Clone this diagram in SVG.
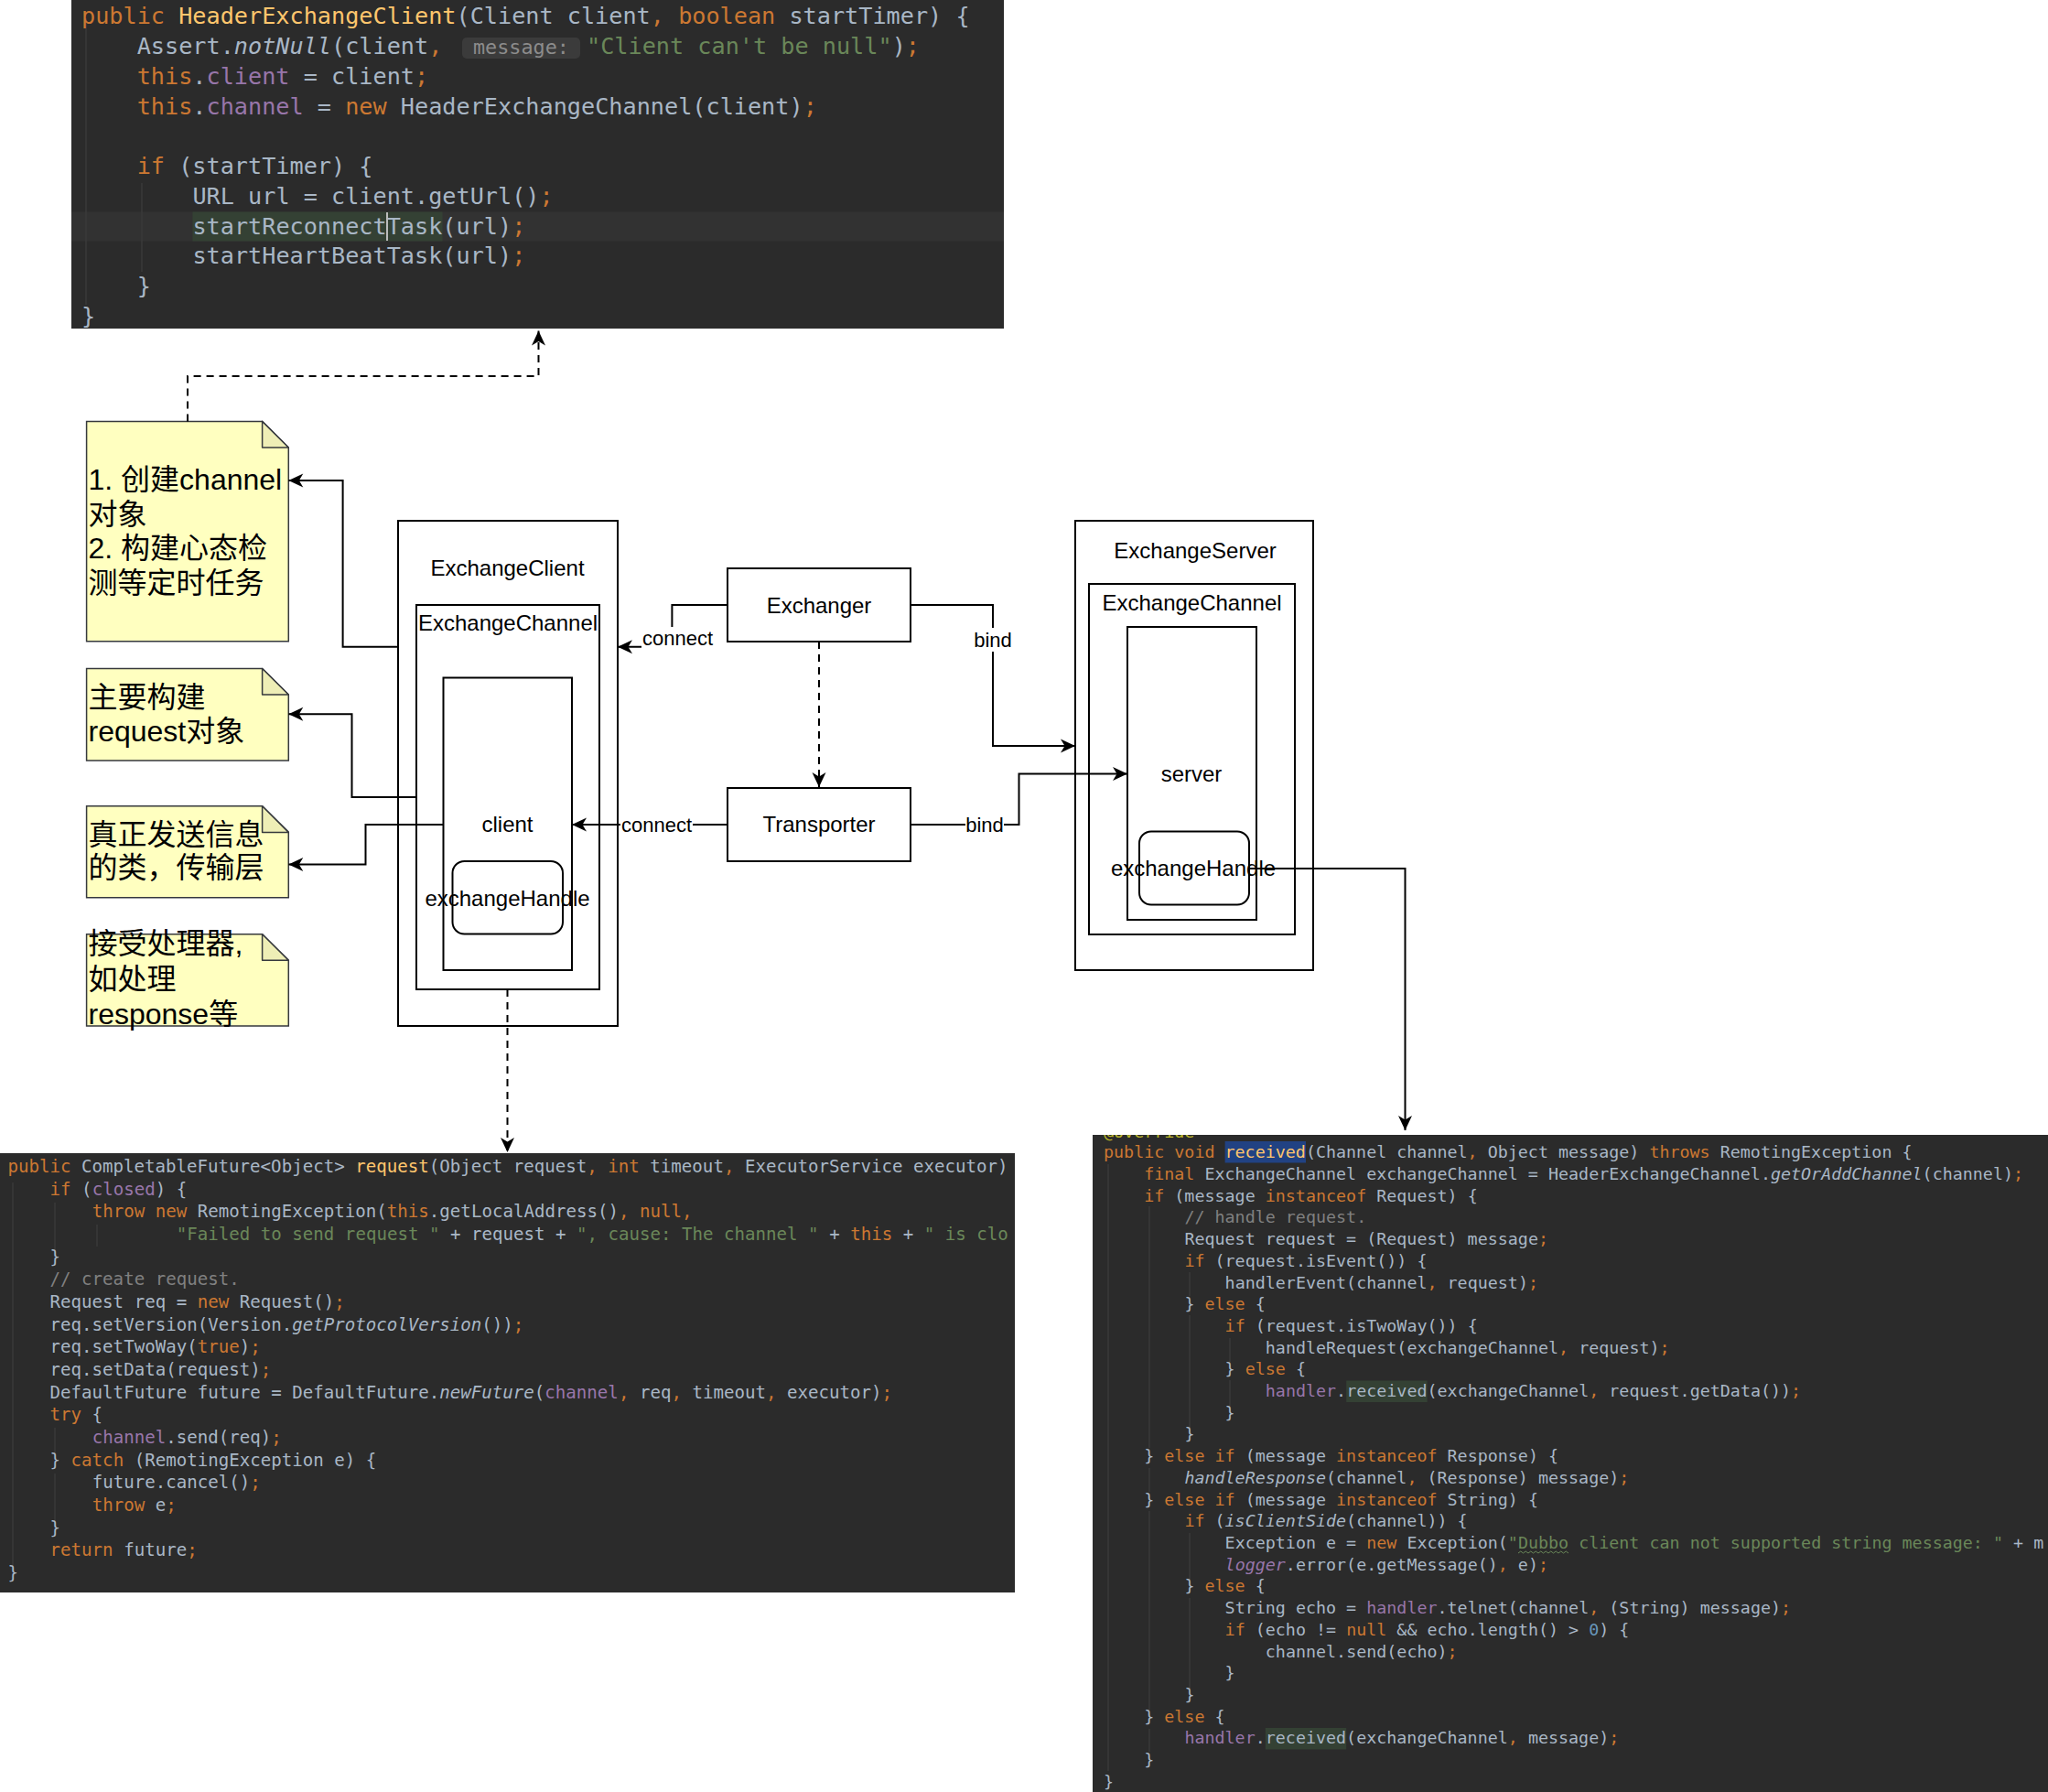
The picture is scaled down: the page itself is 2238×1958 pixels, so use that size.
<svg xmlns="http://www.w3.org/2000/svg" width="2238" height="1958" viewBox="0 0 2238 1958">
<style>
.box{fill:#fff;stroke:#000;stroke-width:2}
.rbox{fill:#fff;stroke:#000;stroke-width:2}
.lbl{font-family:"Liberation Sans",Arial,sans-serif;font-size:24px;fill:#000;text-anchor:middle}
.elbl{font-family:"Liberation Sans",Arial,sans-serif;font-size:22px;fill:#000;text-anchor:middle}
.ebg{fill:#fff;stroke:none}
.note{fill:#FFFFC0;stroke:#36393d;stroke-width:1.5}
.fold{fill:#EEEEB6;stroke:#36393d;stroke-width:1.5;stroke-linejoin:round}
.ntxt{font-family:"Liberation Sans","Noto Sans CJK SC",sans-serif;font-size:32px;fill:#000}
.edge{fill:none;stroke:#000;stroke-width:2}
.dash{stroke-dasharray:8 6}
.bg{fill:#2B2B2B}
.code{font-family:"DejaVu Sans Mono","Liberation Mono",monospace;fill:#A9B7C6;white-space:pre}
.ct{font-size:25.2px}
.cl{font-size:19.13px}
.cr{font-size:18.35px}
.hint{font-family:"DejaVu Sans Mono","Liberation Mono",monospace;font-size:21.8px;fill:#8C8C8C}
.k{fill:#CC7832}
.f{fill:#9876AA}
.s{fill:#6A8759}
.m{fill:#FFC66D}
.c{fill:#808080}
.n{fill:#6897BB}
.a{fill:#BBB529}
.i{font-style:italic}
.guide{stroke:#3A3A3A;stroke-width:1.5}
</style>
<defs>
<marker id="arr" markerUnits="userSpaceOnUse" markerWidth="20" markerHeight="20" viewBox="-18 -10 20 20" refX="0" refY="0" orient="auto">
<path d="M0,0 L-16,-7.5 L-11.5,0 L-16,7.5 Z" fill="#000"/>
</marker>
<clipPath id="clipTop"><rect x="78" y="0" width="1019" height="359"/></clipPath>
<clipPath id="clipBL"><rect x="0" y="1260" width="1109" height="480"/></clipPath>
<clipPath id="clipBR"><rect x="1194" y="1240" width="1044" height="718"/></clipPath>
</defs>
<rect x="0" y="0" width="2238" height="1958" fill="#fff"/>

<!-- Top code block -->
<g id="code-top" clip-path="url(#clipTop)">
<rect class="bg" x="78" y="0" width="1019" height="359"/>
<rect x="78" y="231.5" width="1019" height="32" fill="#323232"/>
<rect x="210.4" y="231.5" width="273.1" height="32" fill="#344134"/>
<line class="guide" x1="94" y1="20" x2="94" y2="333"/>
<line class="guide" x1="155" y1="200" x2="155" y2="297"/>
<text class="code ct" x="89" y="26.3"><tspan class="k">public</tspan> <tspan class="m">HeaderExchangeClient</tspan>(Client client<tspan class="k">,</tspan> <tspan class="k">boolean</tspan> startTimer) {</text>
<text class="code ct" x="149.7" y="59.05">Assert.<tspan class="i">notNull</tspan>(client<tspan class="k">,</tspan></text>
<rect x="505" y="41" width="129" height="23" rx="5" fill="#3B3B3B"/>
<text class="hint" x="517" y="58.5">message:</text>
<text class="code ct" x="641" y="59.05"><tspan class="s">"Client can't be null"</tspan>)<tspan class="k">;</tspan></text>
<text class="code ct" x="149.7" y="91.8"><tspan class="k">this</tspan>.<tspan class="f">client</tspan> = client<tspan class="k">;</tspan></text>
<text class="code ct" x="149.7" y="124.55"><tspan class="k">this</tspan>.<tspan class="f">channel</tspan> = <tspan class="k">new</tspan> HeaderExchangeChannel(client)<tspan class="k">;</tspan></text>
<text class="code ct" x="149.7" y="190.05"><tspan class="k">if</tspan> (startTimer) {</text>
<text class="code ct" x="210.4" y="222.8">URL url = client.getUrl()<tspan class="k">;</tspan></text>
<text class="code ct" x="210.4" y="255.55">startReconnectTask(url)<tspan class="k">;</tspan></text>
<line x1="423" y1="232" x2="423" y2="263" stroke="#BBBBBB" stroke-width="2"/>
<text class="code ct" x="210.4" y="288.3">startHeartBeatTask(url)<tspan class="k">;</tspan></text>
<text class="code ct" x="149.7" y="321.05">}</text>
<text class="code ct" x="89" y="353.8">}</text>
</g>

<!-- Bottom-left code block -->
<g id="code-request" clip-path="url(#clipBL)">
<rect class="bg" x="0" y="1260" width="1109" height="480"/>
<line class="guide" x1="14" y1="1292" x2="14" y2="1712"/>
<line class="guide" x1="60" y1="1314" x2="60" y2="1368"/>
<line class="guide" x1="106" y1="1338" x2="106" y2="1362"/>
<line class="guide" x1="60" y1="1560" x2="60" y2="1588"/>
<line class="guide" x1="60" y1="1610" x2="60" y2="1662"/>
<text class="code cl" x="8.5" y="1280.8"><tspan class="k">public</tspan> CompletableFuture&lt;Object&gt; <tspan class="m">request</tspan>(Object request<tspan class="k">,</tspan> <tspan class="k">int</tspan> timeout<tspan class="k">,</tspan> ExecutorService executor)</text>
<text class="code cl" x="54.6" y="1305.5"><tspan class="k">if</tspan> (<tspan class="f">closed</tspan>) {</text>
<text class="code cl" x="100.7" y="1330.2"><tspan class="k">throw new</tspan> RemotingException(<tspan class="k">this</tspan>.getLocalAddress()<tspan class="k">, null,</tspan></text>
<text class="code cl" x="192.8" y="1354.8"><tspan class="s">"Failed to send request "</tspan> + request + <tspan class="s">", cause: The channel "</tspan> + <tspan class="k">this</tspan> + <tspan class="s">" is clo</tspan></text>
<text class="code cl" x="54.6" y="1379.5">}</text>
<text class="code cl c" x="54.6" y="1404.2">// create request.</text>
<text class="code cl" x="54.6" y="1428.8">Request req = <tspan class="k">new</tspan> Request()<tspan class="k">;</tspan></text>
<text class="code cl" x="54.6" y="1453.5">req.setVersion(Version.<tspan class="i">getProtocolVersion</tspan>())<tspan class="k">;</tspan></text>
<text class="code cl" x="54.6" y="1478.2">req.setTwoWay(<tspan class="k">true</tspan>)<tspan class="k">;</tspan></text>
<text class="code cl" x="54.6" y="1502.8">req.setData(request)<tspan class="k">;</tspan></text>
<text class="code cl" x="54.6" y="1527.5">DefaultFuture future = DefaultFuture.<tspan class="i">newFuture</tspan>(<tspan class="f">channel</tspan><tspan class="k">,</tspan> req<tspan class="k">,</tspan> timeout<tspan class="k">,</tspan> executor)<tspan class="k">;</tspan></text>
<text class="code cl" x="54.6" y="1552.2"><tspan class="k">try</tspan> {</text>
<text class="code cl" x="100.7" y="1576.9"><tspan class="f">channel</tspan>.send(req)<tspan class="k">;</tspan></text>
<text class="code cl" x="54.6" y="1601.5">} <tspan class="k">catch</tspan> (RemotingException e) {</text>
<text class="code cl" x="100.7" y="1626.2">future.cancel()<tspan class="k">;</tspan></text>
<text class="code cl" x="100.7" y="1650.9"><tspan class="k">throw</tspan> e<tspan class="k">;</tspan></text>
<text class="code cl" x="54.6" y="1675.5">}</text>
<text class="code cl" x="54.6" y="1700.2"><tspan class="k">return</tspan> future<tspan class="k">;</tspan></text>
<text class="code cl" x="8.5" y="1724.9">}</text>
</g>

<!-- Bottom-right code block -->
<g id="code-received" clip-path="url(#clipBR)">
<rect class="bg" x="1194" y="1240" width="1044" height="718"/>
<rect x="1338.6" y="1247" width="88.4" height="23.5" fill="#214283"/>
<rect x="1471.2" y="1508.5" width="88.4" height="23.5" fill="#344134"/>
<rect x="1382.8" y="1888" width="88.4" height="23.5" fill="#344134"/>
<line class="guide" x1="1211" y1="1272" x2="1211" y2="1935"/>
<line class="guide" x1="1256" y1="1318" x2="1256" y2="1582"/>
<line class="guide" x1="1300" y1="1390" x2="1300" y2="1416"/>
<line class="guide" x1="1300" y1="1437" x2="1300" y2="1565"/>
<line class="guide" x1="1344" y1="1462" x2="1344" y2="1488"/>
<line class="guide" x1="1344" y1="1508" x2="1344" y2="1536"/>
<line class="guide" x1="1256" y1="1604" x2="1256" y2="1630"/>
<line class="guide" x1="1256" y1="1651" x2="1256" y2="1868"/>
<line class="guide" x1="1300" y1="1675" x2="1300" y2="1726"/>
<line class="guide" x1="1300" y1="1746" x2="1300" y2="1845"/>
<line class="guide" x1="1256" y1="1889" x2="1256" y2="1914"/>
<text class="code cr a" x="1206" y="1243">@Override</text>
<text class="code cr" x="1206" y="1265.2"><tspan class="k">public void</tspan> <tspan class="m">received</tspan>(Channel channel<tspan class="k">,</tspan> Object message) <tspan class="k">throws</tspan> RemotingException {</text>
<text class="code cr" x="1250.2" y="1288.9"><tspan class="k">final</tspan> ExchangeChannel exchangeChannel = HeaderExchangeChannel.<tspan class="i">getOrAddChannel</tspan>(channel)<tspan class="k">;</tspan></text>
<text class="code cr" x="1250.2" y="1312.6"><tspan class="k">if</tspan> (message <tspan class="k">instanceof</tspan> Request) {</text>
<text class="code cr c" x="1294.4" y="1336.3">// handle request.</text>
<text class="code cr" x="1294.4" y="1360.1">Request request = (Request) message<tspan class="k">;</tspan></text>
<text class="code cr" x="1294.4" y="1383.8"><tspan class="k">if</tspan> (request.isEvent()) {</text>
<text class="code cr" x="1338.6" y="1407.5">handlerEvent(channel<tspan class="k">,</tspan> request)<tspan class="k">;</tspan></text>
<text class="code cr" x="1294.4" y="1431.2">} <tspan class="k">else</tspan> {</text>
<text class="code cr" x="1338.6" y="1454.9"><tspan class="k">if</tspan> (request.isTwoWay()) {</text>
<text class="code cr" x="1382.8" y="1478.6">handleRequest(exchangeChannel<tspan class="k">,</tspan> request)<tspan class="k">;</tspan></text>
<text class="code cr" x="1338.6" y="1502.3">} <tspan class="k">else</tspan> {</text>
<text class="code cr" x="1382.8" y="1526"><tspan class="f">handler</tspan>.received(exchangeChannel<tspan class="k">,</tspan> request.getData())<tspan class="k">;</tspan></text>
<text class="code cr" x="1338.6" y="1549.7">}</text>
<text class="code cr" x="1294.4" y="1573.4">}</text>
<text class="code cr" x="1250.2" y="1597.2">} <tspan class="k">else if</tspan> (message <tspan class="k">instanceof</tspan> Response) {</text>
<text class="code cr" x="1294.4" y="1620.9"><tspan class="i">handleResponse</tspan>(channel<tspan class="k">,</tspan> (Response) message)<tspan class="k">;</tspan></text>
<text class="code cr" x="1250.2" y="1644.6">} <tspan class="k">else if</tspan> (message <tspan class="k">instanceof</tspan> String) {</text>
<text class="code cr" x="1294.4" y="1668.3"><tspan class="k">if</tspan> (<tspan class="i">isClientSide</tspan>(channel)) {</text>
<text class="code cr" x="1338.6" y="1692">Exception e = <tspan class="k">new</tspan> Exception(<tspan class="s">"Dubbo client can not supported string message: "</tspan> + m</text>
<path d="M1659,1697 l2.75,-2 l2.75,2 l2.75,-2 l2.75,2 l2.75,-2 l2.75,2 l2.75,-2 l2.75,2 l2.75,-2 l2.75,2 l2.75,-2 l2.75,2 l2.75,-2 l2.75,2 l2.75,-2 l2.75,2 l2.75,-2 l2.75,2 l2.75,-2 l2.75,2" fill="none" stroke="#6A8759" stroke-width="1"/>
<text class="code cr" x="1338.6" y="1715.7"><tspan class="f i">logger</tspan>.error(e.getMessage()<tspan class="k">,</tspan> e)<tspan class="k">;</tspan></text>
<text class="code cr" x="1294.4" y="1739.4">} <tspan class="k">else</tspan> {</text>
<text class="code cr" x="1338.6" y="1763.1">String echo = <tspan class="f">handler</tspan>.telnet(channel<tspan class="k">,</tspan> (String) message)<tspan class="k">;</tspan></text>
<text class="code cr" x="1338.6" y="1786.8"><tspan class="k">if</tspan> (echo != <tspan class="k">null</tspan> &amp;&amp; echo.length() &gt; <tspan class="n">0</tspan>) {</text>
<text class="code cr" x="1382.8" y="1810.5">channel.send(echo)<tspan class="k">;</tspan></text>
<text class="code cr" x="1338.6" y="1834.3">}</text>
<text class="code cr" x="1294.4" y="1858">}</text>
<text class="code cr" x="1250.2" y="1881.7">} <tspan class="k">else</tspan> {</text>
<text class="code cr" x="1294.4" y="1905.4"><tspan class="f">handler</tspan>.received(exchangeChannel<tspan class="k">,</tspan> message)<tspan class="k">;</tspan></text>
<text class="code cr" x="1250.2" y="1929.1">}</text>
<text class="code cr" x="1206" y="1952.8">}</text>
</g>

<!-- Notes -->
<g id="note-client">
<path class="note" d="M94.6,460.4 H286.6 L315.3,489 V700.7 H94.6 Z"/>
<path class="fold" d="M286.6,460.4 V489 H315.3 Z"/>
<text class="ntxt" x="96.5" y="535">1. 创建channel</text>
<text class="ntxt" x="96.5" y="572.5">对象</text>
<text class="ntxt" x="96.5" y="610">2. 构建心态检</text>
<text class="ntxt" x="96.5" y="647.5">测等定时任务</text>
</g>
<g id="note-channel">
<path class="note" d="M94.6,730.5 H286.6 L315.3,759 V831 H94.6 Z"/>
<path class="fold" d="M286.6,730.5 V759 H315.3 Z"/>
<text class="ntxt" x="96.5" y="772.5">主要构建</text>
<text class="ntxt" x="96.5" y="810">request对象</text>
</g>
<g id="note-transport">
<path class="note" d="M94.6,880.8 H286.6 L315.3,909.4 V980.8 H94.6 Z"/>
<path class="fold" d="M286.6,880.8 V909.4 H315.3 Z"/>
<text class="ntxt" x="96.5" y="922.5">真正发送信息</text>
<text class="ntxt" x="96.5" y="959">的类，传输层</text>
</g>
<g id="note-handler">
<path class="note" d="M94.6,1020.7 H286.6 L315.3,1049.3 V1121 H94.6 Z"/>
<path class="fold" d="M286.6,1020.7 V1049.3 H315.3 Z"/>
<text class="ntxt" x="96.5" y="1042">接受处理器,</text>
<text class="ntxt" x="96.5" y="1080.5">如处理</text>
<text class="ntxt" x="96.5" y="1119">response等</text>
</g>

<!-- Client side -->
<g id="exchange-client">
<rect class="box" x="435" y="569" width="240" height="552"/>
<text class="lbl" x="554.5" y="629.4">ExchangeClient</text>
</g>
<g id="client-exchange-channel">
<rect class="box" x="455" y="661" width="200" height="420"/>
<text class="lbl" x="555" y="689.4">ExchangeChannel</text>
</g>
<g id="client">
<rect class="box" x="484.5" y="740.5" width="140.5" height="319.5"/>
<text class="lbl" x="554.5" y="909.4">client</text>
</g>
<g id="client-exchange-handle">
<rect class="rbox" x="494.5" y="941" width="120.5" height="79.5" rx="13"/>
<text class="lbl" x="554.5" y="990.4">exchangeHandle</text>
</g>

<!-- Middle -->
<g id="exchanger">
<rect class="box" x="795" y="621" width="200" height="80"/>
<text class="lbl" x="895" y="670.4">Exchanger</text>
</g>
<g id="transporter">
<rect class="box" x="795" y="861" width="200" height="80"/>
<text class="lbl" x="895" y="909.4">Transporter</text>
</g>

<!-- Server side -->
<g id="exchange-server">
<rect class="box" x="1175" y="569" width="260" height="491"/>
<text class="lbl" x="1306" y="610.4">ExchangeServer</text>
</g>
<g id="server-exchange-channel">
<rect class="box" x="1190" y="638" width="225" height="383"/>
<text class="lbl" x="1302.5" y="667">ExchangeChannel</text>
</g>
<g id="server">
<rect class="box" x="1232" y="685" width="141" height="320"/>
<text class="lbl" x="1302" y="854">server</text>
</g>
<g id="server-exchange-handle">
<rect class="rbox" x="1245" y="908.5" width="120" height="80" rx="13"/>
<text class="lbl" x="1304" y="957.4">exchangeHandle</text>
</g>

<!-- Connectors -->
<g id="connectors">
<path class="edge dash" d="M205,460.4 V411 H588.5 V361.5" marker-end="url(#arr)"/>
<path class="edge" d="M435,706.7 H374.6 V525 H315.3" marker-end="url(#arr)"/>
<path class="edge" d="M455,871 H384.5 V780.3 H315.3" marker-end="url(#arr)"/>
<path class="edge" d="M484.5,901 H399.5 V944.4 H315.3" marker-end="url(#arr)"/>
<path class="edge dash" d="M554.5,1081 V1259" marker-end="url(#arr)"/>
<path class="edge" d="M795,661 H734.4 V706.7 H675" marker-end="url(#arr)"/>
<rect class="ebg" x="701" y="685" width="79" height="23"/>
<text class="elbl" x="740.5" y="704.7">connect</text>
<path class="edge" d="M995,661 H1085 V815 H1175" marker-end="url(#arr)"/>
<rect class="ebg" x="1063" y="686" width="44" height="26"/>
<text class="elbl" x="1085" y="706.7">bind</text>
<path class="edge dash" d="M895,701 V860" marker-end="url(#arr)"/>
<path class="edge" d="M795,901 H625" marker-end="url(#arr)"/>
<rect class="ebg" x="678" y="889" width="79" height="24"/>
<text class="elbl" x="717.5" y="908.7">connect</text>
<path class="edge" d="M995,901 H1113.5 V845.5 H1232" marker-end="url(#arr)"/>
<rect class="ebg" x="1055" y="889" width="42" height="24"/>
<text class="elbl" x="1076" y="908.7">bind</text>
<path class="edge" d="M1365,949 H1535.5 V1235" marker-end="url(#arr)"/>
</g>
</svg>
